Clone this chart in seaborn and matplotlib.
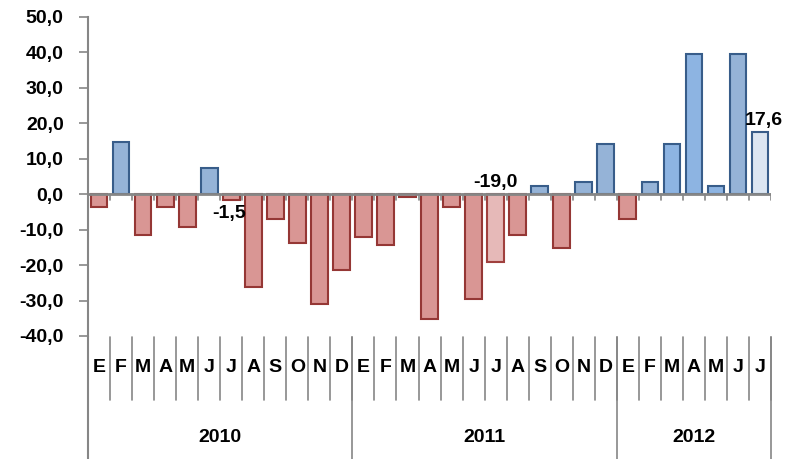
import pandas as pd
import seaborn as sns
import matplotlib.pyplot as plt
import numpy as np

months = ['E', 'F', 'M', 'A', 'M', 'J', 'J', 'A', 'S', 'O', 'N', 'D',
          'E', 'F', 'M', 'A', 'M', 'J', 'J', 'A', 'S', 'O', 'N', 'D',
          'E', 'F', 'M', 'A', 'M', 'J', 'J']
years = ['2010', '2011', '2012']
year_counts = [12, 12, 7]
values = [-3.5, 14.7, -11.4, -3.5, -9.2, 7.3, -1.5, -26.1, -6.9, -13.7, -31.1, -21.5,
          -12.0, -14.3, -0.7, -35.2, -3.5, -29.5, -19.0, -11.5, 2.3, -15.3, 3.4, 14.2,
          -6.9, 3.4, 14.2, 39.6, 2.3, 39.6, 17.6]
labelled = {6: '-1,5', 18: '-19,0', 30: '17,6'}

sns.set_style('white')
plt.rcParams['font.family'] = ['Liberation Sans', 'DejaVu Sans']
plt.rcParams['font.weight'] = 'bold'
plt.rcParams['text.color'] = 'black'
plt.rcParams['ytick.labelcolor'] = 'black'
FS = 14

df = pd.DataFrame({'idx': range(len(values)), 'value': values})

fills, edges = [], []
for i, v in enumerate(values):
    if i == 18:
        fills.append('#E6B9B8'); edges.append('#A0403E')
    elif i == 30:
        fills.append('#DCE6F2'); edges.append('#385D8A')
    elif v < 0:
        fills.append('#D99694'); edges.append('#953735')
    elif i in (26, 27, 28):
        fills.append('#8DB4E2'); edges.append('#385D8A')
    else:
        fills.append('#95B3D7'); edges.append('#385D8A')

fig = plt.figure(figsize=(7.86, 4.59), dpi=100)
ax = fig.add_axes([0.112, 0.268, 0.869, 0.695])
sns.barplot(data=df, x='idx', y='value', hue='idx', palette=fills, legend=False,
            width=0.76, ax=ax, saturation=1)
for p, ec in zip(ax.patches, edges):
    p.set_edgecolor(ec)
    p.set_linewidth(1.5)

grey = '#868686'
ax.set_xlim(-0.5, len(values) - 0.5)
ax.set_ylim(-40, 50)
ax.set_yticks(np.arange(-40, 51, 10))
ax.set_yticklabels([f'{t:.1f}'.replace('.', ',') for t in np.arange(-40, 51, 10)],
                   fontsize=FS, fontweight='bold', color='black')
ax.tick_params(axis='y', length=6.5, width=1.2, color=grey, direction='out', left=True,
               pad=11)
ax.set_xticks([])
ax.set_xlabel('')
ax.set_ylabel('')
for s in ['top', 'right', 'bottom']:
    ax.spines[s].set_visible(False)
ax.spines['left'].set_color(grey)
ax.spines['left'].set_linewidth(1.5)

ax.axhline(0, color=grey, lw=2, zorder=3)
for b in np.arange(-0.5, len(values), 1):
    ax.plot([b, b], [0, -1.6], color=grey, lw=1.2, zorder=3)

for i, txt in labelled.items():
    v = values[i]
    if i == 6:
        ax.text(i - 0.1, -3.0, txt, ha='center', va='top', fontsize=FS, fontweight='bold')
    elif i == 18:
        ax.text(i, 0.8, txt, ha='center', va='bottom', fontsize=FS, fontweight='bold')
    else:
        ax.text(i + 0.15, v + 0.8, txt, ha='center', va='bottom', fontsize=FS,
                fontweight='bold', clip_on=False)

# multi-level category axis
tr = ax.get_xaxis_transform()
for b in np.arange(-0.5, len(values), 1):
    ax.plot([b, b], [-0.003, -0.2], color=grey, lw=1.2, transform=tr, clip_on=False)
for i, m in enumerate(months):
    ax.text(i, -0.1, m, transform=tr, ha='center', va='center', fontsize=FS,
            fontweight='bold')
start = -0.5
ax.plot([start, start], [0, -0.39], color=grey, lw=1.5, transform=tr, clip_on=False)
for y, n in zip(years, year_counts):
    end = start + n
    ax.plot([end, end], [-0.003, -0.39], color=grey, lw=1.2, transform=tr, clip_on=False)
    ax.text((start + end) / 2, -0.317, y, transform=tr, ha='center', va='center',
            fontsize=FS, fontweight='bold')
    start = end

fig.savefig('out.png', dpi=100)
